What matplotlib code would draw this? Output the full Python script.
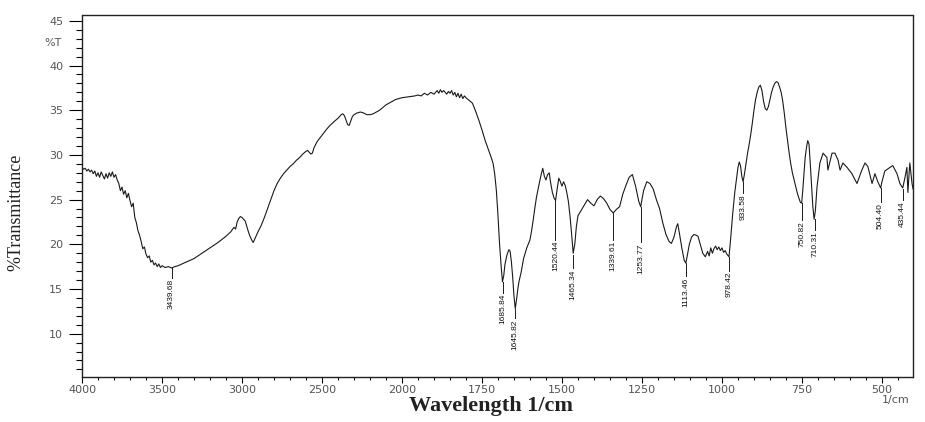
import numpy as np
import matplotlib
matplotlib.use("Agg")
import matplotlib.pyplot as plt
from matplotlib.ticker import FixedLocator

# FTIR spectrum (wavenumber 1/cm, %T)
wavenumber = [
    4000, 3990, 3980, 3970, 3960, 3950, 3940, 3930, 3920, 3910, 3900, 3890, 3880, 3870,
    3860, 3850, 3840, 3830, 3820, 3810, 3800, 3790, 3780, 3770, 3760, 3750, 3740, 3730,
    3720, 3710, 3700, 3690, 3680, 3670, 3660, 3650, 3640, 3630, 3620, 3610, 3600, 3590,
    3580, 3570, 3560, 3550, 3540, 3530, 3520, 3510, 3500, 3480, 3460, 3440, 3420, 3400,
    3350, 3300, 3250, 3200, 3150, 3100, 3070, 3050, 3040, 3030, 3020, 3010, 3000, 2990,
    2980, 2970, 2960, 2950, 2940, 2930, 2920, 2910, 2900, 2880, 2860, 2840, 2820, 2800,
    2780, 2760, 2740, 2720, 2700, 2680, 2660, 2640, 2620, 2600, 2590, 2580, 2570, 2560,
    2550, 2530, 2500, 2470, 2450, 2420, 2400, 2380, 2370, 2360, 2350, 2340, 2330, 2320,
    2310, 2300, 2280, 2260, 2240, 2220, 2200, 2180, 2160, 2140, 2120, 2100, 2080, 2060,
    2040, 2020, 2000, 1980, 1960, 1950, 1940, 1930, 1920, 1910, 1900, 1890, 1885, 1880,
    1875, 1870, 1860, 1855, 1850, 1845, 1840, 1835, 1830, 1825, 1820, 1815, 1810, 1805,
    1800, 1790, 1780, 1770, 1760, 1750, 1740, 1730, 1720, 1715, 1710, 1705, 1700, 1695,
    1690, 1686, 1682, 1678, 1672, 1666, 1662, 1658, 1654, 1650, 1646, 1642, 1638, 1634,
    1628, 1620, 1610, 1600, 1595, 1590, 1585, 1580, 1575, 1570, 1565, 1560, 1555, 1550,
    1545, 1540, 1535, 1530, 1525, 1520, 1515, 1510, 1505, 1500, 1495, 1490, 1485, 1480,
    1475, 1470, 1465, 1460, 1455, 1450, 1440, 1430, 1420, 1410, 1400, 1390, 1380, 1370,
    1360, 1350, 1340, 1330, 1320, 1310, 1300, 1290, 1280, 1270, 1260, 1254, 1245, 1235,
    1225, 1215, 1205, 1195, 1185, 1175, 1165, 1158, 1150, 1142, 1138, 1132, 1125, 1118,
    1113, 1108, 1102, 1095, 1088, 1080, 1075, 1068, 1060, 1052, 1045, 1040, 1035, 1030,
    1025, 1020, 1015, 1010, 1005, 1000, 995, 990, 985, 978, 972, 966, 960, 955,
    950, 946, 942, 938, 934, 930, 925, 920, 915, 910, 905, 900, 895, 890,
    885, 880, 875, 870, 865, 860, 855, 850, 845, 840, 835, 830, 825, 820,
    815, 810, 805, 800, 795, 790, 785, 780, 772, 765, 760, 755, 751, 748,
    744, 740, 736, 732, 728, 724, 720, 716, 712, 708, 703, 694, 684, 672,
    669, 656, 647, 637, 631, 622, 609, 594, 578, 563, 553, 544, 531, 522,
    513, 504, 500, 491, 475, 466, 453, 444, 435, 428, 422, 419, 413, 406,
    403,
]
transmittance = [
    28.6, 28.4, 28.5, 28.2, 28.4, 28.1, 28.3, 27.9, 28.2, 27.6, 28.0, 27.5, 28.1, 27.7,
    27.3, 27.9, 27.4, 28.0, 27.6, 28.1, 27.5, 27.8, 27.2, 26.8, 26.0, 26.4, 25.6, 26.0,
    25.2, 25.7, 24.9, 24.2, 24.6, 23.0, 22.4, 21.5, 21.0, 20.3, 19.5, 19.7, 18.9, 18.5,
    18.7, 18.0, 18.2, 17.7, 17.9, 17.5, 17.8, 17.4, 17.6, 17.4, 17.5, 17.35, 17.5, 17.6,
    18.0, 18.4, 19.0, 19.6, 20.2, 20.9, 21.4, 21.9, 21.7, 22.5, 22.9, 23.1, 23.0, 22.8,
    22.6, 22.0, 21.4, 20.9, 20.5, 20.2, 20.6, 21.0, 21.4, 22.1, 23.0, 24.0, 25.0, 26.0,
    26.8, 27.4, 27.9, 28.3, 28.7, 29.0, 29.4, 29.7, 30.1, 30.4, 30.5, 30.3, 30.1, 30.2,
    30.8, 31.5, 32.2, 32.9, 33.3, 33.8, 34.1, 34.5, 34.6, 34.4, 33.9, 33.4, 33.3, 33.8,
    34.3, 34.5, 34.7, 34.8, 34.7, 34.5, 34.5, 34.6, 34.8, 35.0, 35.3, 35.6, 35.8, 36.0,
    36.2, 36.3, 36.4, 36.5, 36.6, 36.7, 36.6, 36.9, 36.7, 37.0, 36.8, 37.2, 36.9, 37.3,
    37.0, 37.2, 36.8, 37.1, 36.9, 37.2, 36.7, 37.0, 36.5, 36.9, 36.4, 36.8, 36.3, 36.6,
    36.4, 36.1, 35.8, 34.9, 33.9, 32.8, 31.6, 30.6, 29.6, 29.0, 27.8, 26.0, 23.2, 20.0,
    17.5, 15.8, 16.5, 17.8, 18.8, 19.4, 19.2, 18.0, 16.3, 14.2, 12.8, 13.8, 15.0, 15.9,
    16.8, 18.4, 19.6, 20.5, 21.5, 22.7, 24.0, 25.2, 26.1, 27.0, 27.8, 28.5, 27.6, 27.2,
    27.8, 28.0, 26.8, 25.8, 25.2, 24.9, 26.2, 27.4, 27.0, 26.5, 27.0, 26.6, 25.8, 24.8,
    23.2, 21.2, 19.0, 20.0, 22.0, 23.2, 23.8, 24.4, 25.0, 24.6, 24.3, 25.0, 25.4, 25.1,
    24.6, 23.9, 23.5, 23.9, 24.2, 25.6, 26.6, 27.5, 27.8, 26.5, 24.8, 24.2, 26.0, 27.0,
    26.8, 26.2, 25.0, 24.0, 22.4, 21.1, 20.3, 20.1, 20.8, 22.0, 22.3, 21.0, 19.5, 18.2,
    17.9, 18.8, 20.0, 20.8, 21.1, 21.0, 20.9, 20.0, 19.0, 18.6, 19.2, 18.7, 19.6, 19.0,
    19.5, 19.8, 19.4, 19.7, 19.3, 19.6, 19.1, 19.3, 18.9, 18.6, 21.0, 23.6, 25.8, 27.2,
    28.6, 29.2, 28.8, 27.6, 27.0, 27.8, 29.0, 30.2, 31.2, 32.3, 33.6, 35.0, 36.2, 37.0,
    37.6, 37.8, 37.2, 36.0, 35.2, 35.0, 35.4, 36.2, 37.0, 37.6, 38.0, 38.2, 38.1, 37.6,
    37.0, 36.0, 34.6, 33.0, 31.6, 30.2, 29.0, 28.0, 26.8, 25.8, 25.2, 24.7, 24.6, 25.8,
    27.8, 29.7, 30.8, 31.6, 31.2, 29.0, 26.5, 24.2, 22.8, 23.8, 26.4, 29.1, 30.2, 29.7,
    28.3, 30.2, 30.2, 29.4, 28.3, 29.1, 28.6, 27.9, 26.8, 28.3, 29.1, 28.7, 26.8, 27.9,
    27.0, 26.3, 27.0, 28.2, 28.6, 28.8, 27.9, 26.8, 26.3, 27.5, 28.6, 25.8, 29.1, 26.8,
    26.2,
]

# labelled peaks
peak_wn = [3439.68, 1685.84, 1645.82, 1520.44, 1465.34, 1339.61, 1253.77,
           1113.46, 978.42, 933.58, 750.82, 710.31, 504.40, 435.44]
peak_labels = ["3439.68", "1685.84", "1645.82", "1520.44", "1465.34", "1339.61",
               "1253.77", "1113.46", "978.42", "933.58", "750.82", "710.31",
               "504.40", "435.44"]
# leader line: from curve (top) down to where the label starts
peak_line_top = [17.3, 15.8, 12.8, 24.9, 18.8, 23.5, 24.2, 17.9, 18.6, 27.0,
                 24.6, 22.8, 26.3, 26.2]
peak_text_top = [16.2, 14.6, 11.7, 20.5, 17.3, 20.5, 20.2, 16.4, 17.0, 25.7,
                 22.7, 21.6, 24.7, 24.9]

major_x = [4000, 3500, 3000, 2500, 2000, 1750, 1500, 1250, 1000, 750, 500]


def fwd(x):
    # instrument plots 4000-2000 at half the scale of 2000-400
    x = np.asarray(x, dtype=float)
    return np.where(x > 2000, 2000 + (x - 2000) / 2.0, x)


def inv(u):
    u = np.asarray(u, dtype=float)
    return np.where(u > 2000, 2000 + (u - 2000) * 2.0, u)


tick_color = "#555555"

fig = plt.figure(figsize=(9.25, 4.22), dpi=100)
ax = fig.add_axes([82 / 925, 1 - 377 / 422, (913 - 82) / 925, (377 - 15.5) / 422])
ax.set_xscale("function", functions=(fwd, inv))

ax.plot(wavenumber, transmittance, color="#1a1a1a", lw=0.8)

for wn, lab, top, ttop in zip(peak_wn, peak_labels, peak_line_top, peak_text_top):
    ax.plot([wn, wn], [top, ttop], color="#1a1a1a", lw=0.7)
    ax.text(wn, ttop - 0.1, lab, rotation=90, ha="center", va="top",
            fontsize=6, family="Liberation Sans", color="#111111")

ax.set_xlim(4000, 403)
ax.set_ylim(5.15, 45.6)

minor_x = list(range(4000, 2000, -100)) + list(range(2000, 399, -50))
ax.xaxis.set_major_locator(FixedLocator(major_x))
ax.xaxis.set_minor_locator(FixedLocator(minor_x))
ax.set_xticklabels([str(v) for v in major_x])
ax.yaxis.set_major_locator(FixedLocator([10, 15, 20, 25, 30, 35, 40, 45]))
ax.yaxis.set_minor_locator(FixedLocator(list(range(6, 46))))

ax.tick_params(axis="x", which="major", length=4, width=0.8, pad=2,
               labelsize=8, labelcolor=tick_color)
ax.tick_params(axis="x", which="minor", length=2.5, width=0.8)
ax.tick_params(axis="y", which="major", length=9.5, width=0.8, pad=4,
               labelsize=8, labelcolor=tick_color)
ax.tick_params(axis="y", which="minor", length=4.5, width=0.8)
for s in ax.spines.values():
    s.set_linewidth(1.0)
    s.set_color("#222222")

fig.text(53 / 925, 1 - 43 / 422, "%T", ha="center", va="center",
         fontsize=8, color=tick_color)
fig.text(896 / 925, 1 - 400 / 422, "1/cm", ha="center", va="center",
         fontsize=8, color=tick_color)
fig.text(16 / 925, 1 - 212 / 422, "%Transmittance", rotation=90,
         ha="center", va="center", fontsize=13, family="Liberation Serif",
         color="#222222")
fig.text(491 / 925, 1 - 406 / 422, "Wavelength 1/cm", ha="center", va="center",
         fontsize=16, family="Liberation Serif", fontweight="bold",
         color="#222222")

fig.savefig("out.png", dpi=100)
